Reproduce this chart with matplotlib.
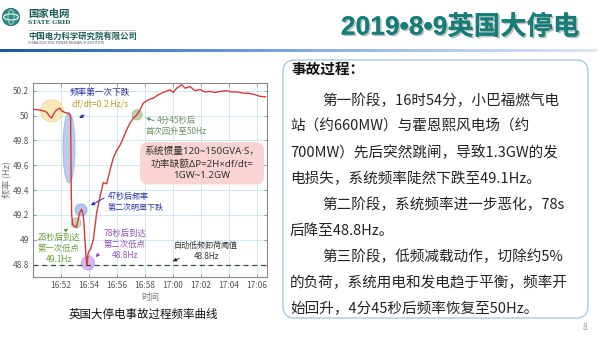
import matplotlib
matplotlib.use('Agg')
import numpy as np
import matplotlib.pyplot as plt
import matplotlib.patheffects as pe
from matplotlib.patches import Ellipse, FancyBboxPatch, Circle
from matplotlib.colors import LinearSegmentedColormap

plt.rcParams['font.family'] = ['Noto Sans CJK SC', 'DejaVu Sans']

# frequency trace, minutes after 16:50
time_min = [0.00, 0.38, 0.74, 0.98, 1.21, 1.34, 1.45, 1.69, 1.93, 2.05, 2.29, 2.52,
            2.64, 2.69, 2.72, 2.76, 2.84, 2.98, 3.10, 3.20, 3.35, 3.47, 3.58, 3.66,
            3.74, 3.83, 3.88, 3.92, 4.00, 4.10, 4.20, 4.31, 4.55, 4.79, 5.02, 5.26,
            5.50, 5.74, 5.98, 6.21, 6.45, 6.69, 6.93, 7.17, 7.41, 7.64, 7.88, 8.24,
            8.59, 8.95, 9.31, 9.79, 10.02, 10.26, 10.62, 10.86, 11.21, 11.57, 11.93,
            12.30, 12.65, 13.00, 13.40, 13.80, 14.20, 14.60, 15.00, 15.40, 15.80,
            16.20, 16.60]
freq_hz = [50.05, 50.046, 50.038, 50.027, 49.99, 49.98, 50.01, 50.046, 50.06, 50.038,
           50.024, 50.019, 50.005, 49.98, 49.50, 49.20, 49.12, 49.11, 49.10, 49.15,
           49.22, 49.245, 49.21, 49.10, 48.94, 48.81, 48.80, 48.88, 48.91, 48.92,
           48.96, 49.00, 49.22, 49.35, 49.46, 49.45, 49.56, 49.66, 49.72, 49.76,
           49.82, 49.885, 49.94, 49.98, 50.005, 50.046, 50.10, 50.127, 50.14, 50.167,
           50.186, 50.207, 50.186, 50.22, 50.248, 50.22, 50.234, 50.20, 50.21, 50.19,
           50.195, 50.185, 50.195, 50.20, 50.19, 50.19, 50.18, 50.18, 50.17, 50.155,
           50.15]

x_ticks = [2, 4, 6, 8, 10, 12, 14, 16]
x_labels = ['16:52', '16:54', '16:56', '16:58', '17:00', '17:02', '17:04', '17:06']
y_ticks = [48.8, 49.0, 49.2, 49.4, 49.6, 49.8, 50.0, 50.2]
y_labels = ['48.8', '49', '49.2', '49.4', '49.6', '49.8', '50', '50.2']
threshold = 48.8

para1 = ['第一阶段，16时54分，小巴福燃气电', '站（约660MW）与霍恩熙风电场（约',
         '700MW）先后突然跳闸，导致1.3GW的发', '电损失，系统频率陡然下跌至49.1Hz。']
para2 = ['第二阶段，系统频率进一步恶化，78s', '后降至48.8Hz。']
para3 = ['第三阶段，低频减载动作，切除约5%', '的负荷，系统用电和发电趋于平衡，频率开',
         '始回升，4分45秒后频率恢复至50Hz。']

W, H = 600, 337
fig = plt.figure(figsize=(W / 100, H / 100), dpi=100)
fig.patch.set_facecolor('white')

# page layer in pixel units
bg = fig.add_axes([0, 0, 1, 1])
grad = np.linspace(0, 1, 300).reshape(1, -1)
cm = LinearSegmentedColormap.from_list('bar', ['#1a56a6', '#5a8fd2', '#a9c1e8', '#dde7f5'])
bg.imshow(grad, extent=(0, 597, 52.5, 49.5), aspect='auto', cmap=cm)
bg.set_xlim(0, W)
bg.set_ylim(H, 0)
bg.axis('off')

# logo + company names
bg.add_patch(Circle((11, 17), 8.5, fc='#2f8f86', ec='#1d6f8a', lw=0.8))
bg.add_patch(Ellipse((11, 17), 15, 6, fc='none', ec='white', lw=0.8))
bg.add_patch(Ellipse((11, 17), 6, 15, fc='none', ec='#b9e0d0', lw=0.6))
bg.text(28, 14, '国家电网', fontsize=7.5, fontweight='bold', color='#1e5e58', va='center')
bg.text(28, 23, 'STATE GRID', fontsize=4.3, fontweight='bold', color='#1e5e58',
        va='center', family='DejaVu Serif')
bg.plot([28, 135], [29.5, 29.5], color='#bbbbbb', lw=0.6)
bg.text(28, 36.5, '中国电力科学研究院有限公司', fontsize=6, fontweight='bold',
        color='#1e5e58', va='center')
bg.text(28, 42.7, 'CHINA ELECTRIC POWER RESEARCH INSTITUTE', fontsize=2.3,
        color='#555555', va='center', family='DejaVu Sans')

title = bg.text(460, 27, '2019•8•9英国大停电', fontsize=19, fontweight='bold',
                family=['Liberation Sans', 'Noto Sans CJK SC'],
                color='#177d78', ha='center', va='center')
title.set_path_effects([pe.withSimplePatchShadow(offset=(1.2, -1.2), shadow_rgbFace='#888888', alpha=0.5),
                        pe.Normal()])

# text panel
bg.add_patch(FancyBboxPatch((283, 60), 305, 258, boxstyle='round,pad=0,rounding_size=12',
                            fc='white', ec='#a6cbe0', lw=1.0))
bg.text(291, 69, '事故过程：', fontsize=10.5, fontweight='bold', color='#111111', va='center')
y = 101
for lines in (para1, para2, para3):
    for i, s in enumerate(lines):
        bg.text(322 if i == 0 else 290, y, s, fontsize=10.5, color='#222222', va='center')
        y += 26
bg.text(585, 327, '8', fontsize=6, color='#999999', ha='center', va='center')

bg.text(143, 314.7, '英国大停电事故过程频率曲线', fontsize=8.3, color='#111111',
        ha='center', va='center')

# frequency chart
ax = fig.add_axes([33 / W, 1 - 277 / H, (267 - 33) / W, (277 - 83) / H])
ax.plot(time_min, freq_hz, color='#d23a3a', lw=1.0, zorder=3)
ax.axhline(threshold, color='#444444', lw=0.9, ls=(0, (4, 3)), zorder=2)
ax.set_xlim(0, 16.71)
ax.set_ylim(48.7, 50.262)
ax.set_xticks(x_ticks)
ax.set_xticklabels(x_labels)
ax.set_yticks(y_ticks)
ax.set_yticklabels(y_labels)
ax.grid(True, color='#c5e6ee', lw=0.6)
ax.set_axisbelow(True)
for sp in ax.spines.values():
    sp.set_color('#888888')
    sp.set_linewidth(0.8)
ax.tick_params(direction='in', length=2.5, width=0.6, colors='#888888', labelcolor='#555555',
               labelsize=6, top=True, right=True, pad=3)
ax.set_xlabel('时间', fontsize=6.5, color='#777777', labelpad=2)
ax.set_ylabel('频率 (Hz)', fontsize=6.5, color='#777777', labelpad=1)

# highlight markers
ax.add_patch(Ellipse((1.36, 50.038), 1.64, 0.177, fc='#f7e3a4', ec='#f0cf7a', lw=0.6, alpha=0.75, zorder=1.5))
ax.add_patch(Ellipse((2.57, 49.74), 0.86, 0.565, fc='#aebde9', ec='#93a8de', lw=0.6, alpha=0.8, zorder=1.5))
ax.add_patch(Ellipse((7.43, 50.006), 0.72, 0.082, fc='#b9c9a4', ec='#9fb58a', lw=0.6, alpha=0.85, zorder=1.5))
ax.add_patch(Ellipse((3.43, 49.24), 0.86, 0.097, fc='#a9b9ea', ec='#8fa4de', lw=0.6, alpha=0.85, zorder=1.5))
ax.add_patch(Ellipse((3.07, 49.135), 0.72, 0.082, fc='#c3cfae', ec='#a5b88e', lw=0.6, alpha=0.85, zorder=1.5))
ax.add_patch(Ellipse((3.93, 48.812), 0.93, 0.113, fc='#cfaef2', ec='#b38fe3', lw=0.6, alpha=0.85, zorder=1.5))

akw = dict(arrowstyle='-|>', mutation_scale=5, lw=0.7)
ax.text(4.79, 50.183, '频率第一次下跌', fontsize=6.2, color='#2b2fa0', ha='center', va='center')
ax.text(4.79, 50.094, 'df/dt=0.2 Hz/s', fontsize=6.2, color='#b8982a', ha='center', va='center')
ax.annotate('', xy=(3.12, 49.97), xytext=(3.84, 50.014), arrowprops=dict(color='#2b2fa0', **akw))

ax.text(10.25, 49.913, '4分45秒后\n首次回升至50Hz', fontsize=6, color='#6b8f62',
        ha='center', va='center', linespacing=1.3)
ax.annotate('', xy=(7.88, 49.99), xytext=(8.84, 49.95), arrowprops=dict(color='#6b8f62', **akw))

ax.text(12.07, 49.615, '系统惯量120~150GVA·S，\n功率缺额ΔP=2H×df/dt=\n1GW~1.2GW', fontsize=7,
        family=['Noto Sans', 'Noto Sans CJK SC'],
        color='#333333', ha='center', va='center', linespacing=1.35,
        bbox=dict(boxstyle='round,pad=0.45,rounding_size=0.8', fc='#fbd3d3', ec='none'))

ax.text(5.36, 49.307, '47秒后频率\n第二次明显下跌', fontsize=5.8, color='#2a35a5',
        ha='left', va='center', linespacing=1.25)
ax.annotate('', xy=(3.95, 49.266), xytext=(5.26, 49.347), arrowprops=dict(color='#2a35a5', **akw))

ax.text(1.86, 48.931, '28秒后到达\n第一次低点\n49.1Hz', fontsize=6, color='#6f9a3a',
        ha='center', va='center', linespacing=1.25)
ax.annotate('', xy=(2.71, 49.097), xytext=(2.14, 49.065), arrowprops=dict(color='#6f9a3a', **akw))

ax.text(6.57, 48.963, '78秒后到达\n第二次低点\n48.8Hz', fontsize=6, color='#8c4fb0',
        ha='center', va='center', linespacing=1.25)
ax.annotate('', xy=(4.32, 48.846), xytext=(4.71, 48.886), arrowprops=dict(color='#8c4fb0', **akw))

ax.text(12.36, 48.91, '自动低频卸荷阈值\n48.8Hz', fontsize=5.8, color='#333333',
        ha='center', va='center', linespacing=1.3)
ax.annotate('', xy=(9.79, 48.818), xytext=(10.62, 48.858), arrowprops=dict(color='#222222', **akw))

fig.savefig('out.png', dpi=100)
